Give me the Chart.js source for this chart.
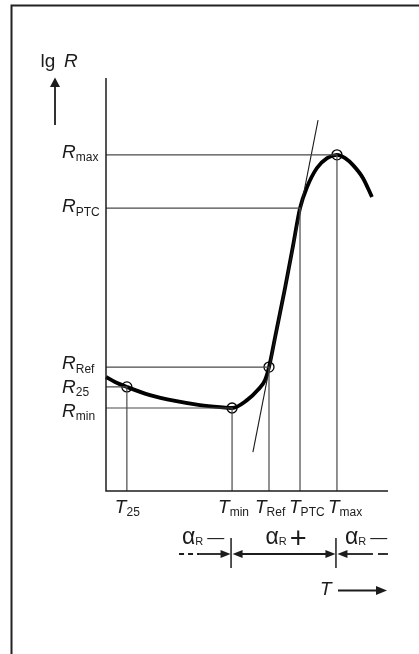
<!DOCTYPE html>
<html>
<head>
<meta charset="utf-8">
<script src="https://cdn.jsdelivr.net/npm/chart.js@4"></script>
<style>
  body { margin: 0; background: #fff; }
  canvas { display: block; }
</style>
</head>
<body>
<canvas id="ptc" width="419" height="654"></canvas>
<script>
// PTC thermistor characteristic, arbitrary units (T and lg R both 0..100)
const curveT = [0, 3.2, 7.4, 15.6, 24.5, 33.3, 40.4, 44.7, 50.0, 53.9, 56.4, 57.8, 59.9, 63.5, 66.3, 68.8, 71.3, 74.8, 78.4, 81.9, 84.8, 87.6, 91.1, 94.3];
const curveR = [27.6, 26.4, 25.2, 23.2, 21.8, 20.8, 20.3, 20.1, 22.0, 24.5, 26.9, 30.0, 37.0, 49.2, 59.3, 68.5, 73.6, 78.2, 80.6, 81.4, 80.6, 78.9, 75.8, 71.2];

// characteristic points
const markNames = ['25', 'min', 'Ref', 'PTC', 'max'];
const markT = [7.4, 44.7, 57.8, 68.8, 81.9];
const markR = [25.2, 20.1, 30.0, 68.5, 81.4];
const circled = [true, true, true, false, true];

// tangent at T_Ref
const tangentT = [52.1, 75.2];
const tangentR = [9.4, 89.8];

// temperature coefficient regions
const alphaSigns = ['\u2014', '+', '\u2014'];
const alphaBounds = ['min', 'max'];

const ink = '#1c1c1c';
const guide = '#4a4a4a';
const xy = (xs, ys) => xs.map((x, i) => ({ x: x, y: ys[i] }));

const datasets = [];
// axes
datasets.push({ data: [{ x: 0, y: 100 }, { x: 0, y: 0 }, { x: 100, y: 0 }], borderColor: ink, borderWidth: 1.5 });
// guide lines: from the R axis across, then down to the T axis
markNames.forEach((n, i) => {
    datasets.push({
        data: [{ x: 0, y: markR[i] }, { x: markT[i], y: markR[i] }, { x: markT[i], y: 0 }],
        borderColor: guide, borderWidth: 1.2
    });
});
datasets.push({ data: xy(tangentT, tangentR), borderColor: ink, borderWidth: 1.1 });
datasets.push({
    data: xy(curveT, curveR), borderColor: '#000', borderWidth: 3.8,
    cubicInterpolationMode: 'monotone', borderCapStyle: 'butt'
});
datasets.push({
    data: xy(markT.filter((t, i) => circled[i]), markR.filter((r, i) => circled[i])),
    showLine: false, pointRadius: 5, pointBorderWidth: 1.3,
    pointBorderColor: '#000', pointBackgroundColor: 'rgba(0,0,0,0)'
});
datasets.forEach(d => {
    d.clip = false;
    if (d.showLine === undefined) d.showLine = true;
    if (d.pointRadius === undefined) d.pointRadius = 0;
});

function subText(ctx, x, y, main, sub, size, subSize, subDy, italic) {
    ctx.textAlign = 'left';
    ctx.textBaseline = 'alphabetic';
    ctx.font = (italic ? 'italic ' : '') + size + 'px "Liberation Sans", Arial, sans-serif';
    ctx.fillText(main, x, y);
    const w = ctx.measureText(main).width;
    ctx.font = subSize + 'px "Liberation Sans", Arial, sans-serif';
    ctx.fillText(sub, x + w, y + subDy);
    return x + w + ctx.measureText(sub).width;
}

function arrowHead(ctx, tipX, tipY, dir, len, half) {
    ctx.beginPath();
    if (dir === 'right' || dir === 'left') {
        const s = dir === 'right' ? -1 : 1;
        ctx.moveTo(tipX, tipY);
        ctx.lineTo(tipX + s * len, tipY - half);
        ctx.lineTo(tipX + s * len, tipY + half);
    } else {
        ctx.moveTo(tipX, tipY);
        ctx.lineTo(tipX - half, tipY + len);
        ctx.lineTo(tipX + half, tipY + len);
    }
    ctx.closePath();
    ctx.fill();
}

const labels = {
    id: 'labels',
    afterDraw(chart) {
        const ctx = chart.ctx;
        const xs = chart.scales.x, ys = chart.scales.y;
        const area = chart.chartArea;
        ctx.save();
        ctx.fillStyle = ink;
        ctx.strokeStyle = ink;

        // frame
        ctx.lineWidth = 2;
        ctx.strokeStyle = '#222';
        ctx.beginPath();
        ctx.moveTo(11.5, 660);
        ctx.lineTo(11.5, 5.5);
        ctx.lineTo(425, 5.5);
        ctx.stroke();

        // R labels (left aligned, nudged apart)
        const rDy = [6, 9, 2, 4, 3];
        markNames.forEach((n, i) => {
            subText(ctx, area.left - 44, ys.getPixelForValue(markR[i]) + rDy[i], 'R', n, 19, 12, 3.5, true);
        });

        // T labels
        const tDx = [-12, -14, -14, -11, -9];
        markNames.forEach((n, i) => {
            subText(ctx, xs.getPixelForValue(markT[i]) + tDx[i], area.bottom + 22, 'T', n, 19, 12, 2.5, true);
        });

        // lg R and arrow
        ctx.font = '19px "Liberation Sans", Arial, sans-serif';
        ctx.fillText('lg', 40.5, 66.5);
        ctx.font = 'italic 19px "Liberation Sans", Arial, sans-serif';
        ctx.fillText('R', 64, 66.5);
        ctx.lineWidth = 1.8;
        ctx.strokeStyle = ink;
        ctx.beginPath();
        ctx.moveTo(55, 125);
        ctx.lineTo(55, 84);
        ctx.stroke();
        arrowHead(ctx, 55, 77.5, 'up', 9.5, 5);

        // alpha_R regions
        const b0 = xs.getPixelForValue(markT[markNames.indexOf(alphaBounds[0])]) - 1;
        const b1 = xs.getPixelForValue(markT[markNames.indexOf(alphaBounds[1])]) - 1;
        const ay = area.bottom + 63;
        ctx.lineWidth = 1.5;
        [b0, b1].forEach(b => {
            ctx.beginPath();
            ctx.moveTo(b, area.bottom + 47);
            ctx.lineTo(b, area.bottom + 77);
            ctx.stroke();
        });
        ctx.lineWidth = 1.8;
        // left arrow (dashed tail)
        ctx.setLineDash([5, 4]);
        ctx.beginPath(); ctx.moveTo(b0 - 52, ay); ctx.lineTo(b0 - 32, ay); ctx.stroke();
        ctx.setLineDash([]);
        ctx.beginPath(); ctx.moveTo(b0 - 32, ay); ctx.lineTo(b0 - 9, ay); ctx.stroke();
        arrowHead(ctx, b0 - 0.5, ay, 'right', 10, 4);
        // middle double arrow
        ctx.beginPath(); ctx.moveTo(b0 + 9, ay); ctx.lineTo(b1 - 9, ay); ctx.stroke();
        arrowHead(ctx, b0 + 1.5, ay, 'left', 10, 4);
        arrowHead(ctx, b1 - 0.5, ay, 'right', 10, 4);
        // right arrow (dashed tail)
        ctx.beginPath(); ctx.moveTo(b1 + 9, ay); ctx.lineTo(b1 + 37, ay); ctx.stroke();
        ctx.beginPath(); ctx.moveTo(b1 + 42, ay); ctx.lineTo(b1 + 52, ay); ctx.stroke();
        arrowHead(ctx, b1 + 1.5, ay, 'left', 10, 4);

        const alphaX = [b0 - 49, (b0 + b1) / 2 - 18, b1 + 9];
        alphaSigns.forEach((s, i) => {
            const end = subText(ctx, alphaX[i], area.bottom + 53, '\u03b1', 'R', 23, 11, 0.5, false);
            if (s === '+') {
                ctx.font = '29px "Liberation Sans", Arial, sans-serif';
                ctx.fillText(s, end + 3, area.bottom + 57);
            } else {
                ctx.font = '17px "Liberation Sans", Arial, sans-serif';
                ctx.fillText(s, end + 4, area.bottom + 52);
            }
        });

        // T arrow
        ctx.font = 'italic 19px "Liberation Sans", Arial, sans-serif';
        ctx.fillText('T', area.right - 68, area.bottom + 104);
        ctx.lineWidth = 2;
        ctx.beginPath();
        ctx.moveTo(area.right - 50, area.bottom + 99.5);
        ctx.lineTo(area.right - 10, area.bottom + 99.5);
        ctx.stroke();
        arrowHead(ctx, area.right - 1, area.bottom + 99.5, 'right', 11, 4.5);

        ctx.restore();
    }
};

new Chart(document.getElementById('ptc'), {
    type: 'scatter',
    data: { datasets: datasets },
    options: {
        responsive: false,
        animation: false,
        events: [],
        layout: { padding: { left: 106, top: 78, right: 31, bottom: 163 } },
        plugins: { legend: { display: false }, tooltip: { enabled: false } },
        scales: {
            x: { type: 'linear', min: 0, max: 100, display: false },
            y: { type: 'linear', min: 0, max: 100, display: false }
        }
    },
    plugins: [labels]
});
</script>
</body>
</html>
